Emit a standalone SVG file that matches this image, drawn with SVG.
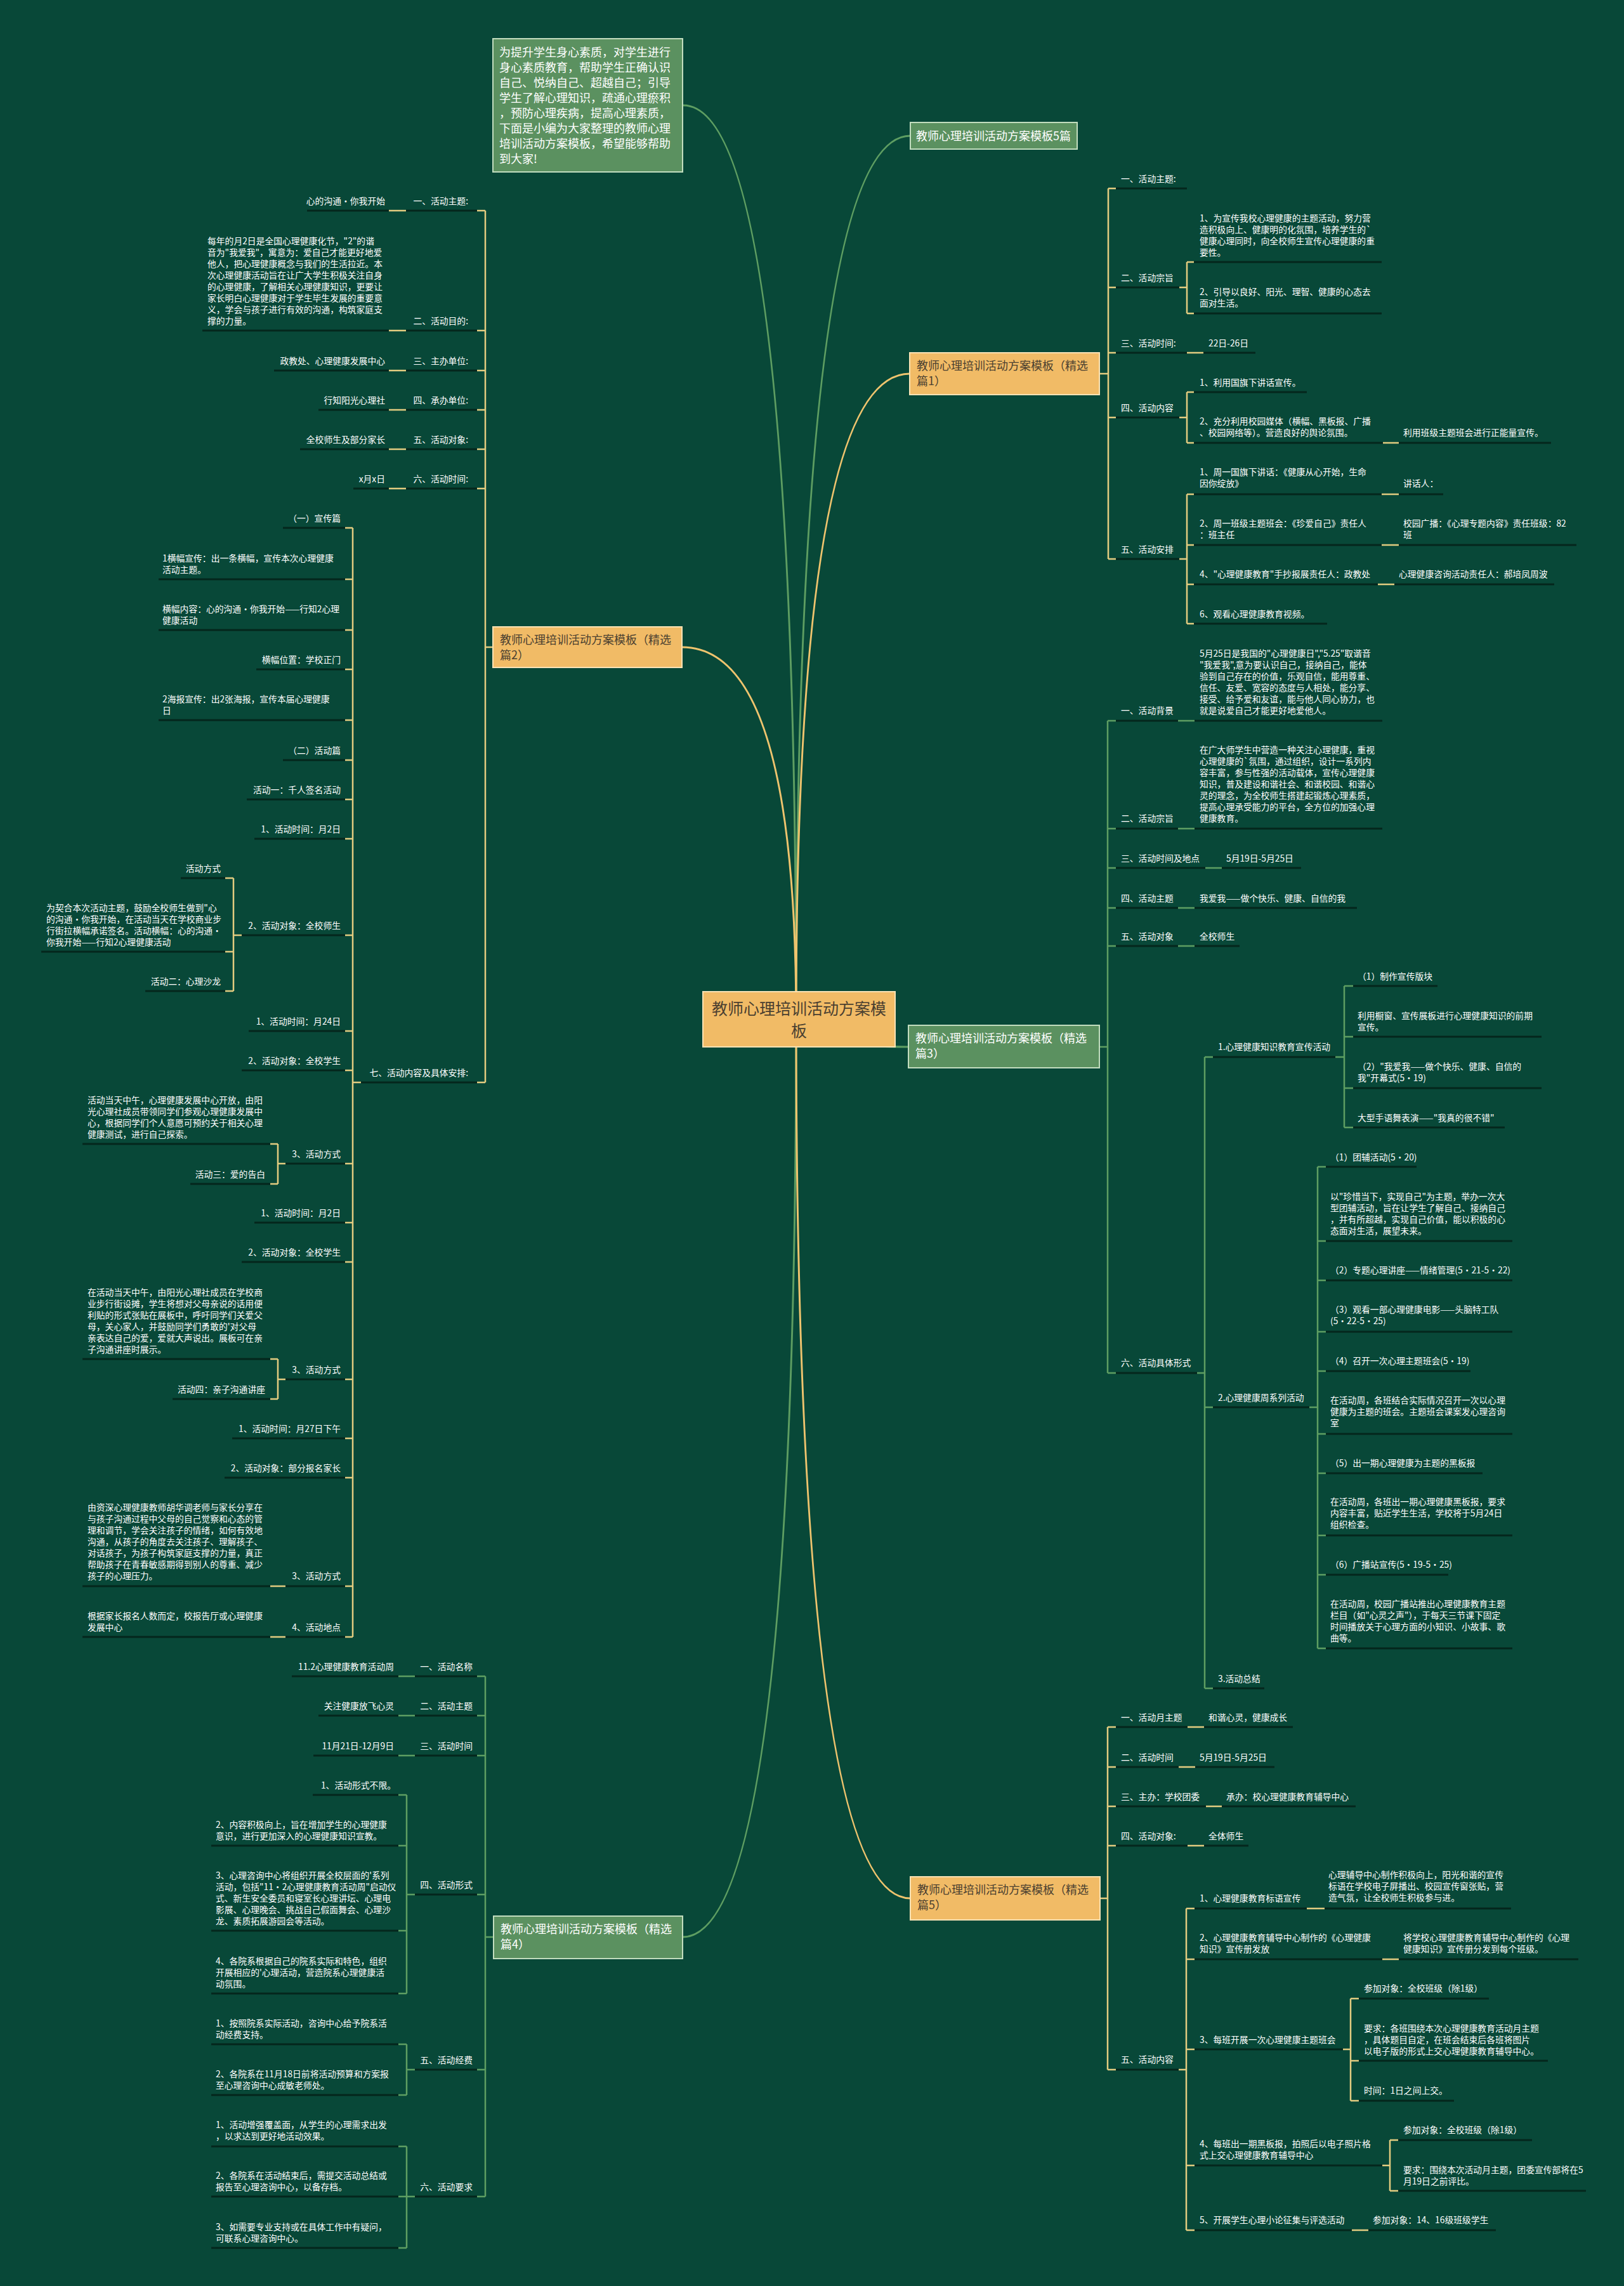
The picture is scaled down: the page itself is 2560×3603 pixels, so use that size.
<svg xmlns="http://www.w3.org/2000/svg" width="2560" height="3603" viewBox="0 0 2560 3603">
<style>
.t{font-family:"Noto Sans CJK SC","Noto Sans",sans-serif;font-size:13.8px;fill:#ffffff}
.e{text-anchor:end}
.u{stroke:#04261c;stroke-width:3;fill:none}
.y{stroke:#E3CC80;stroke-width:2.5;fill:none}
.g{stroke:#5E9E62;stroke-width:2.5;fill:none}
.cy{stroke:#EFC46E;stroke-width:3;fill:none}
.cg{stroke:#5E9E62;stroke-width:3;fill:none}
.no{fill:#F1BB66;stroke:#F9E2B4;stroke-width:2}
.ng{fill:#5B9160;stroke:#C2DDBF;stroke-width:2}
.nt{font-family:"Noto Sans CJK SC","Noto Sans",sans-serif;font-size:18px}
.dk{fill:#4a3f30}
.wh{fill:#ffffff}
</style>
<rect x="0" y="0" width="2560" height="3603" fill="#084838"/>
<g id="connectors">
<path class="cg" d="M1255,1606 Q1255,166 1077,166"/>
<path class="cg" d="M1255,1606 Q1255,214 1435,214"/>
<path class="cy" d="M1255,1606 Q1255,589 1434,589"/>
<path class="cy" d="M1255,1606 Q1255,1020 1075,1020"/>
<path class="cg" d="M1255,1606 Q1255,1650 1432,1650"/>
<path class="cg" d="M1255,1606 Q1255,3053 1076,3053"/>
<path class="cy" d="M1255,1606 Q1255,2992 1435,2992"/>
<!-- section 2 -->
<path class="y" d="M765,1020H778M765,332V1706M752,332H765M752,521H765M752,584H765M752,646H765M752,708H765M752,770H765M752,1706H765M613,332H640M613,521H640M613,584H640M613,646H640M613,708H640M613,770H640M556,1706H569M556,832V2580"/>
<path class="y" d="M544,832H556M544,913H556M544,993H556M544,1055H556M544,1135H556M544,1198H556M544,1260H556M544,1322H556M544,1474H556M544,1625H556M544,1687H556M544,1834H556M544,1927H556M544,1989H556M544,2174H556M544,2267H556M544,2329H556M544,2500H556M544,2580H556"/>
<path class="y" d="M368,1474H381M368,1384V1562M355,1384H368M355,1500H368M355,1562H368M438,1834H450M438,1803V1866M426,1803H438M426,1866H438M438,2174H450M438,2142V2205M426,2142H438M426,2205H438M426,2500H450M426,2580H450"/>
<!-- section 4 -->
<path class="g" d="M765,3053H778M765,2642V3462M752,2642H765M752,2704H765M752,2767H765M752,2986H765M752,3262H765M752,3462H765M628,2642H654M628,2704H654M628,2767H654M641,2986H654M641,2829V3142M628,2829H641M628,2909H641M628,3043H641M628,3142H641M641,3262H654M641,3222V3302M628,3222H641M628,3302H641M641,3462H654M641,3383V3543M628,3383H641M628,3462H641M628,3543H641"/>
<!-- section 1 -->
<path class="y" d="M1733,589H1747M1747,297V881M1747,297H1759M1747,453H1759M1747,556H1759M1747,658H1759M1747,881H1759M1859,453H1871M1871,413V494M1871,413H1882M1871,494H1882M1871,556H1897M1859,658H1871M1871,618V698M1871,618H1882M1871,698H1882M2180,698H2205M1859,881H1871M1871,779V983M1871,779H1882M1871,859H1882M1871,921H1882M1871,983H1882M2178,779H2205M2178,859H2205M2172,921H2198"/>
<!-- section 3 -->
<path class="g" d="M1733,1650H1746M1746,1136V2164M1746,1136H1759M1746,1306H1759M1746,1368H1759M1746,1431H1759M1746,1491H1759M1746,2164H1759M1857,1136H1883M1857,1306H1883M1900,1368H1926M1857,1431H1883M1857,1491H1883M1887,2164H1899M1899,1666V2661M1899,1666H1912M1899,2218H1912M1899,2661H1912M2105,1666H2119M2119,1554V1777M2119,1554H2133M2119,1634H2133M2119,1715H2133M2119,1777H2133M2064,2218H2077M2077,1839V2598M2077,1839H2090M2077,1956H2090M2077,2018H2090M2077,2099H2090M2077,2161H2090M2077,2260H2090M2077,2322H2090M2077,2420H2090M2077,2482H2090M2077,2598H2090"/>
<!-- section 5 -->
<path class="y" d="M1734,2992H1746M1746,2722V3262M1746,2722H1759M1746,2785H1759M1746,2847H1759M1746,2909H1759M1746,3262H1759M1872,2722H1898M1858,2785H1884M1901,2847H1926M1872,2909H1898M1858,3262H1870M1870,3008V3515M1870,3008H1883M1870,3088H1883M1870,3230H1883M1870,3413H1883M1870,3515H1883M2060,3008H2088M2179,3088H2205M2131,3515H2157M2117,3230H2129M2129,3150V3311M2129,3150H2142M2129,3248H2142M2129,3311H2142M2179,3413H2191M2191,3373V3453M2191,3373H2204M2191,3453H2204"/>
</g>
<g id="center">
<rect class="no" x="1108" y="1563" width="303" height="87"/>
<text class="nt dk" x="1259.5" y="1599" style="font-size:25px;text-anchor:middle">教师心理培训活动方案模<tspan x="1259.5" dy="35">板</tspan></text>
</g>
<g id="intro">
<rect class="ng" x="777" y="61" width="299" height="210"/>
<text class="nt wh" x="787" y="88.5">为提升学生身心素质，对学生进行<tspan x="787" dy="24.1">身心素质教育，帮助学生正确认识</tspan><tspan x="787" dy="24.1">自己、悦纳自己、超越自己；引导</tspan><tspan x="787" dy="24.1">学生了解心理知识，疏通心理瘀积</tspan><tspan x="787" dy="24.1">，预防心理疾病，提高心理素质，</tspan><tspan x="787" dy="24.1">下面是小编为大家整理的教师心理</tspan><tspan x="787" dy="24.1">培训活动方案模板，希望能够帮助</tspan><tspan x="787" dy="24.1">到大家!</tspan></text>
</g>
<g id="title5">
<rect class="ng" x="1435" y="193" width="263" height="42"/>
<text class="nt wh" x="1444" y="221">教师心理培训活动方案模板5篇</text>
</g>
<g id="sec1">
<rect class="no" x="1434" y="556" width="299" height="66"/>
<text class="nt dk" x="1445" y="583">教师心理培训活动方案模板（精选<tspan x="1445" dy="24">篇1）</tspan></text>
</g>
<g id="sec2">
<rect class="no" x="777" y="988" width="298" height="64"/>
<text class="nt dk" x="788" y="1015">教师心理培训活动方案模板（精选<tspan x="788" dy="24">篇2）</tspan></text>
</g>
<g id="sec3">
<rect class="ng" x="1432" y="1616" width="301" height="67"/>
<text class="nt wh" x="1443" y="1643">教师心理培训活动方案模板（精选<tspan x="1443" dy="24">篇3）</tspan></text>
</g>
<g id="sec4">
<rect class="ng" x="778" y="3020" width="298" height="67"/>
<text class="nt wh" x="789" y="3047">教师心理培训活动方案模板（精选<tspan x="789" dy="24">篇4）</tspan></text>
</g>
<g id="sec5">
<rect class="no" x="1435" y="2958" width="299" height="68"/>
<text class="nt dk" x="1446" y="2985">教师心理培训活动方案模板（精选<tspan x="1446" dy="24">篇5）</tspan></text>
</g>
<!-- section 2 leaves -->
<g id="s2a"><path class="u" d="M640,332H752"/><text class="t e" x="738" y="322">一、活动主题:</text></g>
<g id="s2a1"><path class="u" d="M484,332H613"/><text class="t e" x="607" y="322">心的沟通·你我开始</text></g>
<g id="s2b"><path class="u" d="M640,521H752"/><text class="t e" x="738" y="511">二、活动目的:</text></g>
<g id="s2b1"><path class="u" d="M319,521H613"/><text class="t" x="327" y="385">每年的月2日是全国心理健康化节，"2"的谐<tspan x="327" dy="18">音为"我爱我"，寓意为：爱自己才能更好地爱</tspan><tspan x="327" dy="18">他人，把心理健康概念与我们的生活拉近。本</tspan><tspan x="327" dy="18">次心理健康活动旨在让广大学生积极关注自身</tspan><tspan x="327" dy="18">的心理健康，了解相关心理健康知识，更要让</tspan><tspan x="327" dy="18">家长明白心理健康对于学生毕生发展的重要意</tspan><tspan x="327" dy="18">义，学会与孩子进行有效的沟通，构筑家庭支</tspan><tspan x="327" dy="18">撑的力量。</tspan></text></g>
<g id="s2c"><path class="u" d="M640,584H752"/><text class="t e" x="738" y="574">三、主办单位:</text></g>
<g id="s2c1"><path class="u" d="M432,584H613"/><text class="t e" x="607" y="574">政教处、心理健康发展中心</text></g>
<g id="s2d"><path class="u" d="M640,646H752"/><text class="t e" x="738" y="636">四、承办单位:</text></g>
<g id="s2d1"><path class="u" d="M502,646H613"/><text class="t e" x="607" y="636">行知阳光心理社</text></g>
<g id="s2e"><path class="u" d="M640,708H752"/><text class="t e" x="738" y="698">五、活动对象:</text></g>
<g id="s2e1"><path class="u" d="M473,708H613"/><text class="t e" x="607" y="698">全校师生及部分家长</text></g>
<g id="s2f"><path class="u" d="M640,770H752"/><text class="t e" x="738" y="760">六、活动时间:</text></g>
<g id="s2f1"><path class="u" d="M557,770H613"/><text class="t e" x="607" y="760">x月x日</text></g>
<g id="s2g"><path class="u" d="M569,1706H752"/><text class="t e" x="738" y="1696">七、活动内容及具体安排:</text></g>
<g id="g1"><path class="u" d="M446,832H544"/><text class="t e" x="537" y="822">（一）宣传篇</text></g>
<g id="g2"><path class="u" d="M250,913H544"/><text class="t" x="256" y="885">1横幅宣传：出一条横幅，宣传本次心理健康<tspan x="256" dy="18">活动主题。</tspan></text></g>
<g id="g3"><path class="u" d="M250,993H544"/><text class="t" x="256" y="965">横幅内容：心的沟通·你我开始——行知2心理<tspan x="256" dy="18">健康活动</tspan></text></g>
<g id="g4"><path class="u" d="M404,1055H544"/><text class="t e" x="537" y="1045">横幅位置：学校正门</text></g>
<g id="g5"><path class="u" d="M250,1135H544"/><text class="t" x="256" y="1107">2海报宣传：出2张海报，宣传本届心理健康<tspan x="256" dy="18">日</tspan></text></g>
<g id="g6"><path class="u" d="M446,1198H544"/><text class="t e" x="537" y="1188">（二）活动篇</text></g>
<g id="g7"><path class="u" d="M389,1260H544"/><text class="t e" x="537" y="1250">活动一：千人签名活动</text></g>
<g id="g8"><path class="u" d="M401,1322H544"/><text class="t e" x="537" y="1312">1、活动时间：月2日</text></g>
<g id="g9"><path class="u" d="M381,1474H544"/><text class="t e" x="537" y="1464">2、活动对象：全校师生</text></g>
<g id="g9a"><path class="u" d="M285,1384H355"/><text class="t e" x="348" y="1374">活动方式</text></g>
<g id="g9b"><path class="u" d="M65,1500H355"/><text class="t" x="73" y="1436">为契合本次活动主题，鼓励全校师生做到"心<tspan x="73" dy="18">的沟通·你我开始，在活动当天在学校商业步</tspan><tspan x="73" dy="18">行街拉横幅承诺签名。活动横幅：心的沟通·</tspan><tspan x="73" dy="18">你我开始——行知2心理健康活动</tspan></text></g>
<g id="g9c"><path class="u" d="M229,1562H355"/><text class="t e" x="348" y="1552">活动二：心理沙龙</text></g>
<g id="g10"><path class="u" d="M392,1625H544"/><text class="t e" x="537" y="1615">1、活动时间：月24日</text></g>
<g id="g11"><path class="u" d="M381,1687H544"/><text class="t e" x="537" y="1677">2、活动对象：全校学生</text></g>
<g id="g12"><path class="u" d="M450,1834H544"/><text class="t e" x="537" y="1824">3、活动方式</text></g>
<g id="g12a"><path class="u" d="M130,1803H426"/><text class="t" x="138" y="1739">活动当天中午，心理健康发展中心开放，由阳<tspan x="138" dy="18">光心理社成员带领同学们参观心理健康发展中</tspan><tspan x="138" dy="18">心，根据同学们个人意愿可预约关于相关心理</tspan><tspan x="138" dy="18">健康测试，进行自己探索。</tspan></text></g>
<g id="g12b"><path class="u" d="M300,1866H426"/><text class="t e" x="418" y="1856">活动三：爱的告白</text></g>
<g id="g13"><path class="u" d="M401,1927H544"/><text class="t e" x="537" y="1917">1、活动时间：月2日</text></g>
<g id="g14"><path class="u" d="M381,1989H544"/><text class="t e" x="537" y="1979">2、活动对象：全校学生</text></g>
<g id="g15"><path class="u" d="M450,2174H544"/><text class="t e" x="537" y="2164">3、活动方式</text></g>
<g id="g15a"><path class="u" d="M130,2142H426"/><text class="t" x="138" y="2042">在活动当天中午，由阳光心理社成员在学校商<tspan x="138" dy="18">业步行街设摊，学生将想对父母亲说的话用便</tspan><tspan x="138" dy="18">利贴的形式张贴在展板中，呼吁同学们关爱父</tspan><tspan x="138" dy="18">母，关心家人，并鼓励同学们勇敢的'对父母</tspan><tspan x="138" dy="18">亲表达自己的爱，爱就大声说出。展板可在亲</tspan><tspan x="138" dy="18">子沟通讲座时展示。</tspan></text></g>
<g id="g15b"><path class="u" d="M272,2205H426"/><text class="t e" x="418" y="2195">活动四：亲子沟通讲座</text></g>
<g id="g16"><path class="u" d="M366,2267H544"/><text class="t e" x="537" y="2257">1、活动时间：月27日下午</text></g>
<g id="g17"><path class="u" d="M354,2329H544"/><text class="t e" x="537" y="2319">2、活动对象：部分报名家长</text></g>
<g id="g18"><path class="u" d="M450,2500H544"/><text class="t e" x="537" y="2489">3、活动方式</text></g>
<g id="g18a"><path class="u" d="M130,2500H426"/><text class="t" x="138" y="2381">由资深心理健康教师胡华调老师与家长分享在<tspan x="138" dy="18">与孩子沟通过程中父母的自己觉察和心态的管</tspan><tspan x="138" dy="18">理和调节，学会关注孩子的情绪，如何有效地</tspan><tspan x="138" dy="18">沟通，从孩子的角度去关注孩子、理解孩子、</tspan><tspan x="138" dy="18">对话孩子，为孩子构筑家庭支撑的力量，真正</tspan><tspan x="138" dy="18">帮助孩子在青春敏感期得到别人的尊重、减少</tspan><tspan x="138" dy="18">孩子的心理压力。</tspan></text></g>
<g id="g19"><path class="u" d="M450,2580H544"/><text class="t e" x="537" y="2570">4、活动地点</text></g>
<g id="g19a"><path class="u" d="M130,2580H426"/><text class="t" x="138" y="2552">根据家长报名人数而定，校报告厅或心理健康<tspan x="138" dy="18">发展中心</tspan></text></g>
<!-- section 4 leaves -->
<g id="h1"><path class="u" d="M654,2642H752"/><text class="t e" x="745" y="2632">一、活动名称</text></g>
<g id="h1a"><path class="u" d="M460,2642H628"/><text class="t e" x="621" y="2632">11.2心理健康教育活动周</text></g>
<g id="h2"><path class="u" d="M654,2704H752"/><text class="t e" x="745" y="2694">二、活动主题</text></g>
<g id="h2a"><path class="u" d="M502,2704H628"/><text class="t e" x="621" y="2694">关注健康放飞心灵</text></g>
<g id="h3"><path class="u" d="M654,2767H752"/><text class="t e" x="745" y="2757">三、活动时间</text></g>
<g id="h3a"><path class="u" d="M494,2767H628"/><text class="t e" x="621" y="2757">11月21日-12月9日</text></g>
<g id="h4"><path class="u" d="M654,2986H752"/><text class="t e" x="745" y="2976">四、活动形式</text></g>
<g id="h4a"><path class="u" d="M493,2829H628"/><text class="t e" x="624" y="2819">1、活动形式不限。</text></g>
<g id="h4b"><path class="u" d="M333,2909H628"/><text class="t" x="340" y="2881">2、内容积极向上，旨在增加学生的心理健康<tspan x="340" dy="18">意识，进行更加深入的心理健康知识宣教。</tspan></text></g>
<g id="h4c"><path class="u" d="M333,3043H628"/><text class="t" x="340" y="2961">3、心理咨询中心将组织开展全校层面的'系列<tspan x="340" dy="18">活动，包括"11·2心理健康教育活动周"启动仪</tspan><tspan x="340" dy="18">式、新生安全委员和寝室长心理讲坛、心理电</tspan><tspan x="340" dy="18">影展、心理晚会、挑战自己假面舞会、心理沙</tspan><tspan x="340" dy="18">龙、素质拓展游园会等活动。</tspan></text></g>
<g id="h4d"><path class="u" d="M333,3142H628"/><text class="t" x="340" y="3096">4、各院系根据自己的院系实际和特色，组织<tspan x="340" dy="18">开展相应的'心理活动，营造院系心理健康活</tspan><tspan x="340" dy="18">动氛围。</tspan></text></g>
<g id="h5"><path class="u" d="M654,3262H752"/><text class="t e" x="745" y="3252">五、活动经费</text></g>
<g id="h5a"><path class="u" d="M333,3222H628"/><text class="t" x="340" y="3194">1、按照院系实际活动，咨询中心给予院系活<tspan x="340" dy="18">动经费支持。</tspan></text></g>
<g id="h5b"><path class="u" d="M333,3302H628"/><text class="t" x="340" y="3274">2、各院系在11月18日前将活动预算和方案报<tspan x="340" dy="18">至心理咨询中心成敏老师处。</tspan></text></g>
<g id="h6"><path class="u" d="M654,3462H752"/><text class="t e" x="745" y="3452">六、活动要求</text></g>
<g id="h6a"><path class="u" d="M333,3383H628"/><text class="t" x="340" y="3354">1、活动增强覆盖面，从学生的心理需求出发<tspan x="340" dy="18">，以求达到更好地活动效果。</tspan></text></g>
<g id="h6b"><path class="u" d="M333,3462H628"/><text class="t" x="340" y="3434">2、各院系在活动结束后，需提交活动总结或<tspan x="340" dy="18">报告至心理咨询中心，以备存档。</tspan></text></g>
<g id="h6c"><path class="u" d="M333,3543H628"/><text class="t" x="340" y="3515">3、如需要专业支持或在具体工作中有疑问，<tspan x="340" dy="18">可联系心理咨询中心。</tspan></text></g>
<!-- section 1 leaves -->
<g id="i1"><path class="u" d="M1759,297H1871"/><text class="t" x="1767" y="287">一、活动主题:</text></g>
<g id="i2"><path class="u" d="M1759,453H1859"/><text class="t" x="1767" y="443">二、活动宗旨</text></g>
<g id="i2a"><path class="u" d="M1882,413H2178"/><text class="t" x="1891" y="349">1、为宣传我校心理健康的主题活动，努力营<tspan x="1891" dy="18">造积极向上、健康明的化氛围，培养学生的`</tspan><tspan x="1891" dy="18">健康心理同时，向全校师生宣传心理健康的重</tspan><tspan x="1891" dy="18">要性。</tspan></text></g>
<g id="i2b"><path class="u" d="M1882,494H2178"/><text class="t" x="1891" y="465">2、引导以良好、阳光、理智、健康的心态去<tspan x="1891" dy="18">面对生活。</tspan></text></g>
<g id="i3"><path class="u" d="M1759,556H1871"/><text class="t" x="1767" y="546">三、活动时间:</text></g>
<g id="i3a"><path class="u" d="M1897,556H1979"/><text class="t" x="1905" y="546">22日-26日</text></g>
<g id="i4"><path class="u" d="M1759,658H1859"/><text class="t" x="1767" y="648">四、活动内容</text></g>
<g id="i4a"><path class="u" d="M1882,618H2060"/><text class="t" x="1891" y="608">1、利用国旗下讲话宣传。</text></g>
<g id="i4b"><path class="u" d="M1882,698H2180"/><text class="t" x="1891" y="669">2、充分利用校园媒体（横幅、黑板报、广播<tspan x="1891" dy="18">、校园网络等）。营造良好的舆论氛围。</tspan></text></g>
<g id="i4b1"><path class="u" d="M2205,698H2445"/><text class="t" x="2212" y="687">利用班级主题班会进行正能量宣传。</text></g>
<g id="i5"><path class="u" d="M1759,881H1859"/><text class="t" x="1767" y="871">五、活动安排</text></g>
<g id="i5a"><path class="u" d="M1882,779H2178"/><text class="t" x="1891" y="749">1、周一国旗下讲话：《健康从心开始，生命<tspan x="1891" dy="18">因你绽放》</tspan></text></g>
<g id="i5a1"><path class="u" d="M2205,779H2275"/><text class="t" x="2212" y="767">讲话人：</text></g>
<g id="i5b"><path class="u" d="M1882,859H2178"/><text class="t" x="1891" y="830">2、周一班级主题班会：《珍爱自己》责任人<tspan x="1891" dy="18">：班主任</tspan></text></g>
<g id="i5b1"><path class="u" d="M2205,859H2485"/><text class="t" x="2212" y="830">校园广播：《心理专题内容》责任班级：82<tspan x="2212" dy="18">班</tspan></text></g>
<g id="i5c"><path class="u" d="M1882,921H2172"/><text class="t" x="1891" y="910">4、"心理健康教育"手抄报展责任人：政教处</text></g>
<g id="i5c1"><path class="u" d="M2198,921H2450"/><text class="t" x="2205" y="910">心理健康咨询活动责任人：郝培凤周波</text></g>
<g id="i5d"><path class="u" d="M1882,983H2092"/><text class="t" x="1891" y="973">6、观看心理健康教育视频。</text></g>
<!-- section 3 leaves -->
<g id="j1"><path class="u" d="M1759,1136H1857"/><text class="t" x="1767" y="1125">一、活动背景</text></g>
<g id="j1a"><path class="u" d="M1883,1136H2179"/><text class="t" x="1891" y="1035">5月25日是我国的"心理健康日","5.25"取谐音<tspan x="1891" dy="18">"我爱我",意为要认识自己，接纳自己，能体</tspan><tspan x="1891" dy="18">验到自己存在的价值，乐观自信，能用尊重、</tspan><tspan x="1891" dy="18">信任、友爱、宽容的态度与人相处，能分享、</tspan><tspan x="1891" dy="18">接受、给予爱和友谊，能与他人同心协力，也</tspan><tspan x="1891" dy="18">就是说爱自己才能更好地爱他人。</tspan></text></g>
<g id="j2"><path class="u" d="M1759,1306H1857"/><text class="t" x="1767" y="1295">二、活动宗旨</text></g>
<g id="j2a"><path class="u" d="M1883,1306H2179"/><text class="t" x="1891" y="1187">在广大师学生中营造一种关注心理健康，重视<tspan x="1891" dy="18">心理健康的`氛围，通过组织，设计一系列内</tspan><tspan x="1891" dy="18">容丰富，参与性强的活动载体，宣传心理健康</tspan><tspan x="1891" dy="18">知识，普及建设和谐社会、和谐校园、和谐心</tspan><tspan x="1891" dy="18">灵的理念，为全校师生搭建起锻炼心理素质，</tspan><tspan x="1891" dy="18">提高心理承受能力的平台，全方位的加强心理</tspan><tspan x="1891" dy="18">健康教育。</tspan></text></g>
<g id="j3"><path class="u" d="M1759,1368H1900"/><text class="t" x="1767" y="1358">三、活动时间及地点</text></g>
<g id="j3a"><path class="u" d="M1926,1368H2051"/><text class="t" x="1933" y="1358">5月19日-5月25日</text></g>
<g id="j4"><path class="u" d="M1759,1431H1857"/><text class="t" x="1767" y="1421">四、活动主题</text></g>
<g id="j4a"><path class="u" d="M1883,1431H2139"/><text class="t" x="1891" y="1421">我爱我——做个快乐、健康、自信的我</text></g>
<g id="j5"><path class="u" d="M1759,1491H1857"/><text class="t" x="1767" y="1481">五、活动对象</text></g>
<g id="j5a"><path class="u" d="M1883,1491H1954"/><text class="t" x="1891" y="1481">全校师生</text></g>
<g id="j6"><path class="u" d="M1759,2164H1887"/><text class="t" x="1767" y="2153">六、活动具体形式</text></g>
<g id="j6a"><path class="u" d="M1912,1666H2105"/><text class="t" x="1920" y="1655">1.心理健康知识教育宣传活动</text></g>
<g id="j6a1"><path class="u" d="M2133,1554H2266"/><text class="t" x="2140" y="1544">（1）制作宣传版块</text></g>
<g id="j6a2"><path class="u" d="M2133,1634H2430"/><text class="t" x="2140" y="1606">利用橱窗、宣传展板进行心理健康知识的前期<tspan x="2140" dy="18">宣传。</tspan></text></g>
<g id="j6a3"><path class="u" d="M2133,1715H2430"/><text class="t" x="2140" y="1686">（2）"我爱我——做个快乐、健康、自信的<tspan x="2140" dy="18">我"开幕式(5·19)</tspan></text></g>
<g id="j6a4"><path class="u" d="M2133,1777H2372"/><text class="t" x="2140" y="1767">大型手语舞表演——"我真的很不错"</text></g>
<g id="j6b"><path class="u" d="M1912,2218H2064"/><text class="t" x="1920" y="2208">2.心理健康周系列活动</text></g>
<g id="j6b1"><path class="u" d="M2090,1839H2233"/><text class="t" x="2097" y="1829">（1）团辅活动(5·20)</text></g>
<g id="j6b2"><path class="u" d="M2090,1956H2384"/><text class="t" x="2097" y="1891">以"珍惜当下，实现自己"为主题，举办一次大<tspan x="2097" dy="18">型团辅活动，旨在让学生了解自己、接纳自己</tspan><tspan x="2097" dy="18">，并有所超越，实现自己价值，能以积极的心</tspan><tspan x="2097" dy="18">态面对生活，展望未来。</tspan></text></g>
<g id="j6b3"><path class="u" d="M2090,2018H2384"/><text class="t" x="2097" y="2007">（2）专题心理讲座——情绪管理(5·21-5·22)</text></g>
<g id="j6b4"><path class="u" d="M2090,2099H2384"/><text class="t" x="2097" y="2069">（3）观看一部心理健康电影——头脑特工队<tspan x="2097" dy="18">(5·22-5·25)</tspan></text></g>
<g id="j6b5"><path class="u" d="M2090,2161H2318"/><text class="t" x="2097" y="2150">（4）召开一次心理主题班会(5·19)</text></g>
<g id="j6b6"><path class="u" d="M2090,2260H2384"/><text class="t" x="2097" y="2212">在活动周，各班结合实际情况召开一次以心理<tspan x="2097" dy="18">健康为主题的班会。主题班会课案发心理咨询</tspan><tspan x="2097" dy="18">室</tspan></text></g>
<g id="j6b7"><path class="u" d="M2090,2322H2337"/><text class="t" x="2097" y="2311">（5）出一期心理健康为主题的黑板报</text></g>
<g id="j6b8"><path class="u" d="M2090,2420H2384"/><text class="t" x="2097" y="2372">在活动周，各班出一期心理健康黑板报，要求<tspan x="2097" dy="18">内容丰富，贴近学生生活，学校将于5月24日</tspan><tspan x="2097" dy="18">组织检查。</tspan></text></g>
<g id="j6b9"><path class="u" d="M2090,2482H2283"/><text class="t" x="2097" y="2471">（6）广播站宣传(5·19-5·25)</text></g>
<g id="j6b10"><path class="u" d="M2090,2598H2384"/><text class="t" x="2097" y="2533">在活动周，校园广播站推出心理健康教育主题<tspan x="2097" dy="18">栏目（如"心灵之声"），于每天三节课下固定</tspan><tspan x="2097" dy="18">时间播放关于心理方面的小知识、小故事、歌</tspan><tspan x="2097" dy="18">曲等。</tspan></text></g>
<g id="j6c"><path class="u" d="M1912,2661H1993"/><text class="t" x="1920" y="2651">3.活动总结</text></g>
<!-- section 5 leaves -->
<g id="k1"><path class="u" d="M1759,2722H1872"/><text class="t" x="1767" y="2712">一、活动月主题</text></g>
<g id="k1a"><path class="u" d="M1898,2722H2038"/><text class="t" x="1905" y="2712">和谐心灵，健康成长</text></g>
<g id="k2"><path class="u" d="M1759,2785H1858"/><text class="t" x="1767" y="2775">二、活动时间</text></g>
<g id="k2a"><path class="u" d="M1884,2785H2009"/><text class="t" x="1891" y="2775">5月19日-5月25日</text></g>
<g id="k3"><path class="u" d="M1759,2847H1901"/><text class="t" x="1767" y="2837">三、主办：学校团委</text></g>
<g id="k3a"><path class="u" d="M1926,2847H2137"/><text class="t" x="1933" y="2837">承办：校心理健康教育辅导中心</text></g>
<g id="k4"><path class="u" d="M1759,2909H1872"/><text class="t" x="1767" y="2899">四、活动对象:</text></g>
<g id="k4a"><path class="u" d="M1898,2909H1968"/><text class="t" x="1905" y="2899">全体师生</text></g>
<g id="k5"><path class="u" d="M1759,3262H1858"/><text class="t" x="1767" y="3251">五、活动内容</text></g>
<g id="k5a"><path class="u" d="M1883,3008H2060"/><text class="t" x="1891" y="2997">1、心理健康教育标语宣传</text></g>
<g id="k5a1"><path class="u" d="M2088,3008H2382"/><text class="t" x="2094" y="2960">心理辅导中心制作积极向上，阳光和谐的宣传<tspan x="2094" dy="18">标语在学校电子屏播出、校园宣传窗张贴，营</tspan><tspan x="2094" dy="18">造气氛，让全校师生积极参与进。</tspan></text></g>
<g id="k5b"><path class="u" d="M1883,3088H2179"/><text class="t" x="1891" y="3059">2、心理健康教育辅导中心制作的《心理健康<tspan x="1891" dy="18">知识》宣传册发放</tspan></text></g>
<g id="k5b1"><path class="u" d="M2205,3088H2488"/><text class="t" x="2212" y="3059">将学校心理健康教育辅导中心制作的《心理<tspan x="2212" dy="18">健康知识》宣传册分发到每个班级。</tspan></text></g>
<g id="k5c"><path class="u" d="M1883,3230H2117"/><text class="t" x="1891" y="3220">3、每班开展一次心理健康主题班会</text></g>
<g id="k5c1"><path class="u" d="M2142,3150H2347"/><text class="t" x="2150" y="3139">参加对象：全校班级（除1级）</text></g>
<g id="k5c2"><path class="u" d="M2142,3248H2440"/><text class="t" x="2150" y="3202">要求：各班围绕本次心理健康教育活动月主题<tspan x="2150" dy="18">，具体题目自定，在班会结束后各班将图片</tspan><tspan x="2150" dy="18">以电子版的形式上交心理健康教育辅导中心。</tspan></text></g>
<g id="k5c3"><path class="u" d="M2142,3311H2292"/><text class="t" x="2150" y="3300">时间：1日之间上交。</text></g>
<g id="k5d"><path class="u" d="M1883,3413H2179"/><text class="t" x="1891" y="3384">4、每班出一期黑板报，拍照后以电子照片格<tspan x="1891" dy="18">式上交心理健康教育辅导中心</tspan></text></g>
<g id="k5d1"><path class="u" d="M2204,3373H2415"/><text class="t" x="2212" y="3362">参加对象：全校班级（除1级）</text></g>
<g id="k5d2"><path class="u" d="M2204,3453H2500"/><text class="t" x="2212" y="3425">要求：围绕本次活动月主题，团委宣传部将在5<tspan x="2212" dy="18">月19日之前评比。</tspan></text></g>
<g id="k5e"><path class="u" d="M1883,3515H2131"/><text class="t" x="1891" y="3504">5、开展学生心理小论征集与评选活动</text></g>
<g id="k5e1"><path class="u" d="M2157,3515H2358"/><text class="t" x="2164" y="3504">参加对象：14、16级班级学生</text></g>
</svg>
